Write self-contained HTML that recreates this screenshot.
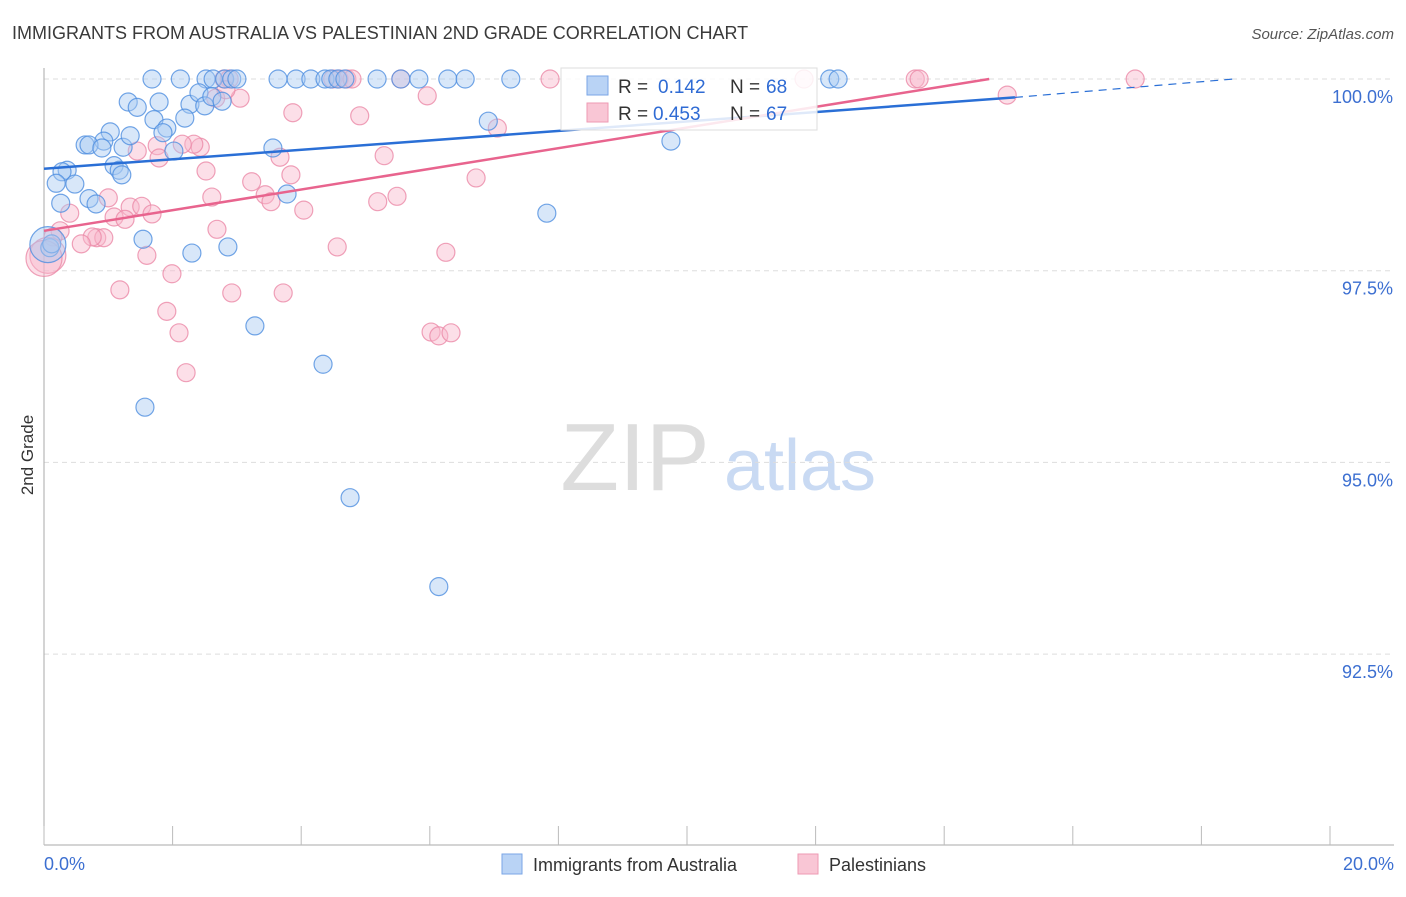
<!DOCTYPE html>
<html><head><meta charset="utf-8">
<style>
body{margin:0;background:#fff;font-family:"Liberation Sans",sans-serif;}
svg text{font-family:"Liberation Sans",sans-serif;}
</style></head>
<body>
<svg id="chart" width="1406" height="892" xmlns="http://www.w3.org/2000/svg">
<text x="12" y="39" font-size="18" fill="#3a3a3a">IMMIGRANTS FROM AUSTRALIA VS PALESTINIAN 2ND GRADE CORRELATION CHART</text>
<text x="1394" y="39" font-size="15" fill="#555" text-anchor="end" font-style="italic">Source: ZipAtlas.com</text>
<text transform="translate(33,455) rotate(-90)" font-size="17" fill="#333" text-anchor="middle">2nd Grade</text>
<g>
<text x="635" y="490" font-size="96" fill="#ddd" text-anchor="middle" font-family="Liberation Serif">ZIP</text>
<text x="800" y="490" font-size="72" fill="#c9daf3" text-anchor="middle">atlas</text>
</g>
<g id="grid"></g>
<g id="axes"></g>
<g id="marks"></g>
<g id="lines"></g>
<g>
<rect x="561" y="68" width="256" height="62" fill="#fff" fill-opacity="0.85" stroke="#ddd"/>
<rect x="587" y="76" width="21" height="19" fill="#b9d3f5" stroke="#7aa6e6"/>
<text x="618" y="93" font-size="19" fill="#333">R = </text>
<text x="658" y="93" font-size="19" fill="#2f6bd4">0.142</text>
<text x="730" y="93" font-size="19" fill="#333">N = </text>
<text x="766" y="93" font-size="19" fill="#2f6bd4">68</text>
<rect x="587" y="103" width="21" height="19" fill="#f9c6d5" stroke="#ee9ab3"/>
<text x="618" y="120" font-size="19" fill="#333">R = </text>
<text x="653" y="120" font-size="19" fill="#2f6bd4">0.453</text>
<text x="730" y="120" font-size="19" fill="#333">N = </text>
<text x="766" y="120" font-size="19" fill="#2f6bd4">67</text>
</g>
<g>
<rect x="502" y="854" width="20" height="20" fill="#b9d3f5" stroke="#7aa6e6"/>
<text x="533" y="871" font-size="18" fill="#333">Immigrants from Australia</text>
<rect x="798" y="854" width="20" height="20" fill="#f9c6d5" stroke="#ee9ab3"/>
<text x="829" y="871" font-size="18" fill="#333">Palestinians</text>
</g>
</svg>
<script>
const xTicks=[0,2,4,6,8,10,12,14,16,18,20];
const yTicks=[100,97.5,95,92.5];
const yTickLabels=["100.0%","97.5%","95.0%","92.5%"];
const blueX=[1.68,2.12,2.52,2.63,2.81,2.92,3.00,3.64,3.92,4.15,4.37,4.46,4.57,4.68,5.18,5.55,5.83,6.28,6.55,7.26,12.22,12.35,1.31,1.45,1.79,2.27,2.41,2.50,2.61,2.77,1.71,1.91,2.19,1.85,1.03,0.93,0.64,0.70,0.90,1.23,1.34,2.02,3.56,6.91,9.75,0.36,0.28,0.19,0.48,1.09,1.17,0.26,0.70,0.81,3.78,7.82,1.54,2.30,2.86,0.09,0.12,3.28,4.34,1.57,4.76,6.14,0.06,1.21];
const blueY=[100,100,100,100,100,100,100,100,100,100,100,100,100,100,100,100,100,100,100,100,100,100,99.70,99.63,99.70,99.67,99.82,99.65,99.77,99.71,99.47,99.36,99.49,99.30,99.31,99.19,99.14,99.14,99.10,99.11,99.26,99.06,99.10,99.45,99.19,98.81,98.79,98.64,98.63,98.87,98.81,98.38,98.44,98.37,98.50,98.25,97.91,97.73,97.81,97.80,97.85,96.78,96.28,95.72,94.54,93.38,97.84,98.75];
const pinkX=[2.80,2.88,4.49,4.59,4.71,4.79,5.55,7.87,11.82,13.55,13.61,16.97,14.98,5.96,3.05,2.67,2.83,3.87,4.91,7.05,2.43,2.33,2.15,1.76,1.45,1.79,5.29,3.67,2.52,3.84,6.72,3.23,3.44,2.61,1.00,3.53,5.19,5.49,0.40,4.04,1.34,1.52,1.68,1.09,1.26,2.69,0.25,0.14,0.82,0.93,0.75,0.58,1.60,4.56,6.25,0.06,1.99,1.18,2.92,3.72,1.91,2.10,6.02,6.14,6.33,2.21,0.0];
const pinkY=[100,100,100,100,100,100,100,100,100,100,100,100,99.79,99.78,99.75,99.75,99.86,99.56,99.52,99.36,99.11,99.15,99.15,99.13,99.06,98.97,99.00,98.98,98.80,98.75,98.71,98.66,98.49,98.46,98.45,98.40,98.40,98.47,98.25,98.29,98.33,98.34,98.24,98.20,98.17,98.04,98.02,97.94,97.93,97.93,97.94,97.85,97.70,97.81,97.74,97.70,97.46,97.25,97.21,97.21,96.97,96.69,96.70,96.65,96.69,96.17,97.66];
const blueTrend=[[0,98.83],[15.1,99.76]];
const blueDash=[[15.1,99.76],[18.5,100]];
const pinkTrend=[[0,98.02],[14.7,100]];
const NS="http://www.w3.org/2000/svg";
const sx=v=>44+v*64.3;
const sy=v=>79+(100-v)*76.68;
function mk(tag,attrs,parent){const e=document.createElementNS(NS,tag);for(const k in attrs)e.setAttribute(k,attrs[k]);parent.appendChild(e);return e;}
const grid=document.getElementById('grid'),axes=document.getElementById('axes'),marks=document.getElementById('marks'),lines=document.getElementById('lines');
yTicks.forEach((t,i)=>{
 const l=mk('line',{x1:44,x2:1394,y1:sy(t),y2:sy(t),stroke:'#ddd','stroke-dasharray':'5,4'},grid);
 
 
 const tx=mk('text',{x:1393,y:sy(t)+24,'font-size':18,fill:'#3c6fd1','text-anchor':'end'},axes);
 tx.textContent=yTickLabels[i];
 
 
});
const ya=mk('line',{x1:44,x2:44,y1:68,y2:845,stroke:'#aaa'},axes);


const xa=mk('line',{x1:44,x2:1394,y1:845,y2:845,stroke:'#aaa'},axes);


xTicks.forEach(t=>{
 const l=mk('line',{x1:sx(t),x2:sx(t),y1:826,y2:845,stroke:'#bbb'},axes);
 
 
});
[[0,"0.0%","start",44],[20,"20.0%","end",1394]].forEach(a=>{
 const tx=mk('text',{x:a[3],y:870,'font-size':18,fill:'#3c6fd1','text-anchor':a[2]},axes);
 tx.textContent=a[1];
 
 
});
function pts(X,Y,fill,stroke,name){
 X.forEach((x,i)=>{
  const big=(x<=0.06&&Math.abs(Y[i]-97.75)<0.15);
  const c=mk('circle',{cx:sx(x),cy:sy(Y[i]),r:big?18:9,fill:fill,'fill-opacity':0.45,stroke:stroke,'stroke-opacity':0.8,'stroke-width':1.2},marks);
  
  
 });
}
pts(pinkX,pinkY,'#f9b9cc','#eb8aa8','palestinian-point');
pts(blueX,blueY,'#a9c9f2','#4f8ee0','australia-point');
function ln(p,color,name,dash){
 const l=mk('line',{x1:sx(p[0][0]),y1:sy(p[0][1]),x2:sx(p[1][0]),y2:sy(p[1][1]),stroke:color,'stroke-width':dash?1.2:2.5},lines);
 if(dash)l.setAttribute('stroke-dasharray','8,6');
 
 
}
ln(blueTrend,'#2a6fd6','australia-trend-line');
ln(blueDash,'#2a6fd6','australia-trend-extension',true);
ln(pinkTrend,'#e8648e','palestinian-trend-line');
</script>
</body></html>
